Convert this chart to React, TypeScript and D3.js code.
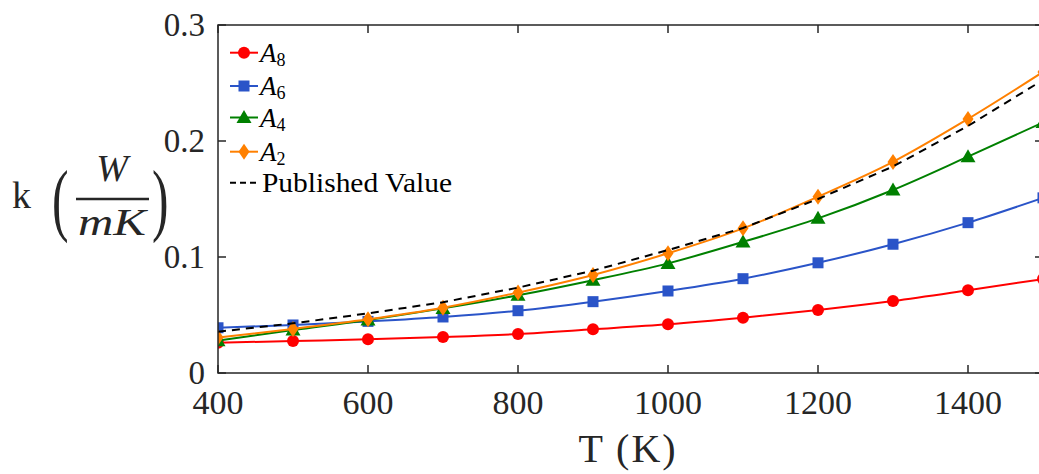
import * as d3 from "d3";

const W = 1039;
const H = 474;
const MARGIN = { top: 25, right: -4, bottom: 101, left: 218 };

const temps = [400, 500, 600, 700, 800, 900, 1000, 1100, 1200, 1300, 1400, 1500];
const a8 = [0.0261, 0.0276, 0.029, 0.031, 0.0336, 0.0377, 0.042, 0.0477, 0.0543, 0.062, 0.0713, 0.081];
const a6 = [0.039, 0.0414, 0.0445, 0.0483, 0.0537, 0.0615, 0.0707, 0.0813, 0.095, 0.111, 0.1296, 0.151];
const a4 = [0.0279, 0.037, 0.0457, 0.0557, 0.067, 0.08, 0.0945, 0.113, 0.1333, 0.1578, 0.1865, 0.216];
const a2 = [0.0305, 0.038, 0.0463, 0.0563, 0.0693, 0.0845, 0.1032, 0.1247, 0.152, 0.182, 0.219, 0.2595];
const published = [0.0356, 0.0428, 0.0514, 0.061, 0.0736, 0.0882, 0.106, 0.125, 0.15, 0.178, 0.213, 0.2526];

const xTicks = [400, 600, 800, 1000, 1200, 1400];
const yTicks = [0, 0.1, 0.2, 0.3];

const series = [
  { name: "8", values: a8, color: "#ff0000", marker: "circle" },
  { name: "6", values: a6, color: "#2a54c8", marker: "square" },
  { name: "4", values: a4, color: "#008000", marker: "triangle" },
  { name: "2", values: a2, color: "#ff8000", marker: "diamond" },
];

const FONT = "'Liberation Serif', 'DejaVu Serif', serif";
const AXIS = "#262626";

function Marker({ type, x, y, color }: { type: string; x: number; y: number; color: string }) {
  if (type === "circle") return <circle cx={x} cy={y} r={6} fill={color} />;
  if (type === "square") return <rect x={x - 5.5} y={y - 5.5} width={11} height={11} fill={color} />;
  if (type === "triangle")
    return <path d={`M${x},${y - 7.5}L${x + 7.5},${y + 5.5}L${x - 7.5},${y + 5.5}Z`} fill={color} />;
  return <path d={`M${x},${y - 8}L${x + 5.5},${y}L${x},${y + 8}L${x - 5.5},${y}Z`} fill={color} />;
}

export default function App() {
  const x0 = MARGIN.left;
  const x1 = W - MARGIN.right;
  const y0 = H - MARGIN.bottom;
  const y1 = MARGIN.top;

  const xScale = d3.scaleLinear().domain([400, 1500]).range([x0, x1]);
  const yScale = d3.scaleLinear().domain([0, 0.3]).range([y0, y1]);

  const smooth = d3
    .line<number>()
    .x((_, i) => xScale(temps[i]))
    .y((d) => yScale(d))
    .curve(d3.curveMonotoneX);

  const straight = d3
    .line<number>()
    .x((_, i) => xScale(temps[i]))
    .y((d) => yScale(d));

  const legendRows = [52.7, 86, 117.5, 151.7];

  return (
    <svg
      width={W}
      height={H}
      style={{ position: "absolute", left: 0, top: 0, background: "#fff" }}
      fontFamily={FONT}
    >
      <defs>
        <clipPath id="plot">
          <rect x={x0} y={y1} width={x1 - x0} height={y0 - y1} />
        </clipPath>
      </defs>

      {/* data */}
      <g clipPath="url(#plot)">
        {series.map((s) => (
          <g key={s.name}>
            <path d={smooth(s.values) ?? ""} fill="none" stroke={s.color} strokeWidth={2} />
            {s.values.map((v, i) => (
              <Marker key={i} type={s.marker} x={xScale(temps[i])} y={yScale(v)} color={s.color} />
            ))}
          </g>
        ))}
        <path
          d={straight(published) ?? ""}
          fill="none"
          stroke="#000"
          strokeWidth={2}
          strokeDasharray="8,6"
        />
      </g>

      {/* box and ticks */}
      <rect x={x0} y={y1} width={x1 - x0} height={y0 - y1} fill="none" stroke={AXIS} strokeWidth={1.5} />
      {xTicks.map((t) => (
        <g key={t}>
          <line x1={xScale(t)} x2={xScale(t)} y1={y0} y2={y0 - 8} stroke={AXIS} strokeWidth={1.5} />
          <line x1={xScale(t)} x2={xScale(t)} y1={y1} y2={y1 + 8} stroke={AXIS} strokeWidth={1.5} />
          <text x={xScale(t)} y={414} textAnchor="middle" fontSize={34} fill={AXIS}>
            {t}
          </text>
        </g>
      ))}
      {yTicks.map((t) => (
        <g key={t}>
          <line x1={x0} x2={x0 + 8} y1={yScale(t)} y2={yScale(t)} stroke={AXIS} strokeWidth={1.5} />
          <line x1={x1} x2={x1 - 8} y1={yScale(t)} y2={yScale(t)} stroke={AXIS} strokeWidth={1.5} />
          <text x={205} y={yScale(t) + 11} textAnchor="end" fontSize={33} fill={AXIS}>
            {t === 0 ? "0" : t.toFixed(1)}
          </text>
        </g>
      ))}

      {/* axis labels */}
      <text x={628} y={462} textAnchor="middle" fontSize={40} fill={AXIS} letterSpacing={2}>
        T (K)
      </text>
      <g fill={AXIS}>
        <text x={12} y={208} fontSize={38}>k</text>
        <text transform="translate(52,226) scale(0.62,1)" fontSize={80}>(</text>
        <text x={112} y={181} textAnchor="middle" fontSize={38} fontStyle="italic">W</text>
        <line x1={76} x2={149} y1={199} y2={199} stroke={AXIS} strokeWidth={2.5} />
        <text x={78} y={235} fontSize={38} fontStyle="italic" textLength={68} lengthAdjust="spacingAndGlyphs">mK</text>
        <text transform="translate(152,226) scale(0.62,1)" fontSize={80}>)</text>
      </g>

      {/* legend */}
      {series.map((s, i) => (
        <g key={s.name}>
          <line x1={230} x2={258} y1={legendRows[i]} y2={legendRows[i]} stroke={s.color} strokeWidth={2} />
          <Marker type={s.marker} x={244} y={legendRows[i]} color={s.color} />
          <text x={260} y={legendRows[i] + 9} fontSize={27} fill="#000">
            <tspan fontStyle="italic">A</tspan>
            <tspan fontSize={18} dy={4}>{s.name}</tspan>
          </text>
        </g>
      ))}
      <line x1={230} x2={258} y1={182.7} y2={182.7} stroke="#000" strokeWidth={2} strokeDasharray="6,4" />
      <text x={262} y={192} fontSize={27} fill="#000" textLength={190} lengthAdjust="spacingAndGlyphs">
        Published Value
      </text>
    </svg>
  );
}
